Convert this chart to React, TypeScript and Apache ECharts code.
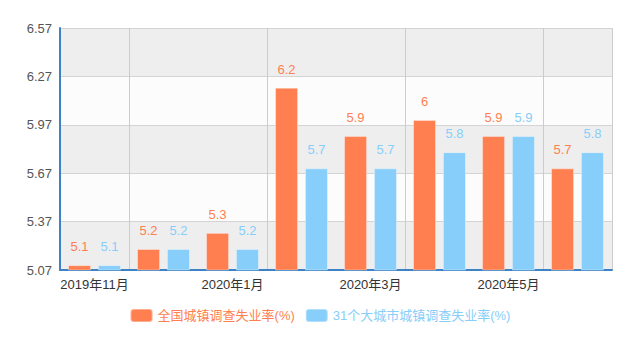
import React, { useEffect, useRef } from "react";
import * as echarts from "echarts";

const categories = ["2019年11月", "2019年12月", "2020年1月", "2020年2月", "2020年3月", "2020年4月", "2020年5月", "2020年6月"];
const nationalRate = [5.1, 5.2, 5.3, 6.2, 5.9, 6, 5.9, 5.7];
const cityRate = [5.1, 5.2, 5.2, 5.7, 5.7, 5.8, 5.9, 5.8];
const seriesNames = ["全国城镇调查失业率(%)", "31个大城市城镇调查失业率(%)"];
const yMin = 5.07;
const yMax = 6.57;
const yStep = 0.3;

const FONT = "'Liberation Sans', 'Noto Sans CJK SC', sans-serif";
const ORANGE = "#FF7F50";
const BLUE = "#87CEFA";

export default function App() {
  const ref = useRef<HTMLDivElement>(null);
  useEffect(() => {
    document.body.style.margin = "0";
    if (!ref.current) return;
    const chart = echarts.init(ref.current, null, { renderer: "svg" });
    const tickPick = (i: number) => i === 0 || i % 2 === 1;
    chart.setOption({
      animation: false,
      textStyle: { fontFamily: FONT },
      grid: { left: 60, right: 28, top: 28, bottom: 85 },
      legend: {
        bottom: 27,
        left: "center",
        icon: "roundRect",
        itemWidth: 22,
        itemHeight: 13,
        itemGap: 10,
        data: [
          { name: seriesNames[0], textStyle: { color: ORANGE } },
          { name: seriesNames[1], textStyle: { color: BLUE } },
        ],
        textStyle: { fontSize: 13, fontFamily: FONT },
      },
      xAxis: {
        type: "category",
        data: categories,
        axisLine: { lineStyle: { color: "#3c82c4", width: 2 } },
        axisTick: { interval: tickPick, lineStyle: { color: "#333" } },
        axisLabel: { interval: 1, color: "#333", fontSize: 13, fontFamily: FONT },
        splitLine: { show: true, interval: tickPick, lineStyle: { color: "#cccccc" } },
      },
      yAxis: {
        type: "value",
        min: yMin,
        max: yMax,
        interval: yStep,
        axisLine: { show: true, lineStyle: { color: "#3c82c4", width: 2 } },
        axisTick: { show: false },
        axisLabel: {
          color: "#555",
          fontSize: 13,
          fontFamily: FONT,
          margin: 8,
          formatter: (v: number) => v.toFixed(2),
        },
        splitLine: { lineStyle: { color: "#d4d4d4" } },
        splitArea: { show: true, areaStyle: { color: ["#eeeeee", "#fcfcfc"] } },
      },
      series: [
        {
          name: seriesNames[0],
          type: "bar",
          data: nationalRate,
          barWidth: 23,
          barGap: "30%",
          itemStyle: { color: ORANGE, borderColor: "rgba(255,255,255,0.35)", borderWidth: 1 },
          label: { show: true, position: "top", distance: 12, color: ORANGE, fontSize: 13, fontFamily: FONT },
        },
        {
          name: seriesNames[1],
          type: "bar",
          data: cityRate,
          barWidth: 23,
          barGap: "30%",
          itemStyle: { color: BLUE, borderColor: "rgba(255,255,255,0.35)", borderWidth: 1 },
          label: { show: true, position: "top", distance: 12, color: BLUE, fontSize: 13, fontFamily: FONT },
        },
      ],
    });
    return () => chart.dispose();
  }, []);
  return <div ref={ref} style={{ width: 640, height: 355 }} />;
}
